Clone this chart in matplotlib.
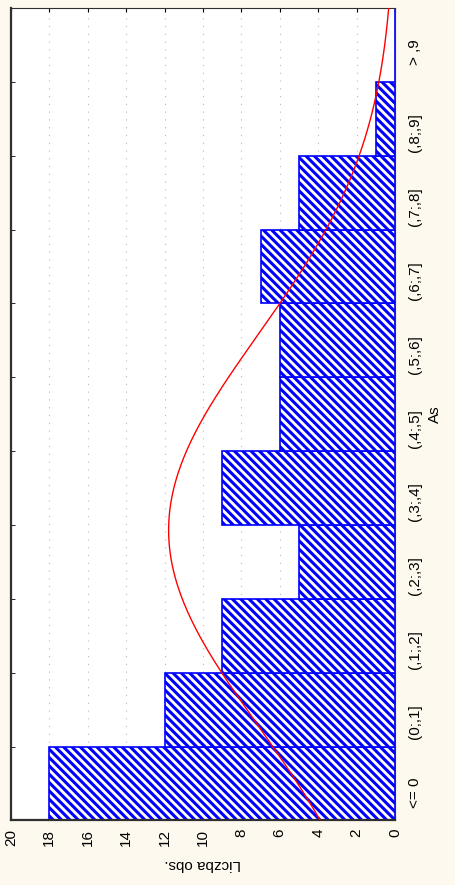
import matplotlib.pyplot as plt
import numpy as np
from matplotlib.ticker import FixedLocator

# histogram of As (rotated STATISTICA-style chart)
categories = ['<= 0', '(0;,1]', '(,1;,2]', '(,2;,3]', '(,3;,4]', '(,4;,5]',
              '(,5;,6]', '(,6;,7]', '(,7;,8]', '(,8;,9]', '> ,9']
counts = [18, 12, 9, 5, 9, 6, 6, 7, 5, 1, 0]
value_ticks = [0, 2, 4, 6, 8, 10, 12, 14, 16, 18, 20]

# expected normal curve, parameters
fit_mean = 0.293
fit_sd = 0.264
bin_width = 0.1
n_obs = sum(counts)

plt.rcParams['font.family'] = ['Liberation Sans', 'DejaVu Sans']
plt.rcParams['hatch.linewidth'] = 2.2

fig = plt.figure(figsize=(4.55, 8.85), dpi=100, facecolor='#fef9ee')
ax = fig.add_axes([0.024, 0.073, 0.844, 0.918])
ax.set_facecolor('white')

pos = np.arange(len(categories))
ax.barh(pos, counts, height=1.0, color='white', edgecolor='#0000ff',
        hatch='\\\\\\\\', linewidth=1.2, zorder=2)

# normal curve (category index -> value of As)
idx = np.linspace(-0.5, len(categories) - 0.5, 300)
val = idx * bin_width - bin_width / 2
dens = n_obs * bin_width / (fit_sd * np.sqrt(2 * np.pi)) * np.exp(-0.5 * ((val - fit_mean) / fit_sd) ** 2)
ax.plot(dens, idx, color='red', lw=1.0, zorder=3)

ax.set_xlim(20, 0)
ax.set_ylim(-0.5, len(categories) - 0.5)

ax.set_xticks(value_ticks)
ax.set_xticklabels([str(v) for v in value_ticks], rotation=90, fontsize=11)
ax.tick_params(axis='x', direction='in', length=3, top=True, bottom=True, pad=6)
ax.grid(axis='x', color='#b8b8b8', linestyle=(0, (1, 6)), lw=0.8, zorder=1)

ax.set_yticks(pos)
ax.set_yticklabels(categories, rotation=90, fontsize=11)
ax.yaxis.set_minor_locator(FixedLocator(np.arange(-0.5, len(categories))))
ax.tick_params(axis='y', which='major', left=False, right=False,
               labelleft=False, labelright=True, pad=6)
ax.tick_params(axis='y', which='minor', left=True, right=False,
               direction='in', length=3)

ax.set_xlabel('Liczba obs.', rotation=180, fontsize=11, labelpad=8)
ax.yaxis.set_label_position('right')
ax.set_ylabel('As', rotation=90, fontsize=11, labelpad=4)

for side in ['left', 'right', 'top', 'bottom']:
    ax.spines[side].set_color('#303030')
ax.spines['left'].set_linewidth(1.6)
ax.spines['bottom'].set_linewidth(1.6)

fig.savefig('out.png', dpi=100, facecolor=fig.get_facecolor())
